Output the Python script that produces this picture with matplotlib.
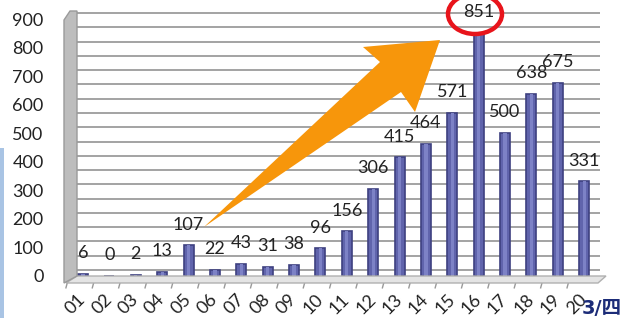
import matplotlib
matplotlib.use('Agg')
import matplotlib.pyplot as plt
import matplotlib.transforms as mtransforms
from matplotlib.patches import Polygon, Ellipse, Rectangle

categories = ['01', '02', '03', '04', '05', '06', '07', '08', '09', '10',
              '11', '12', '13', '14', '15', '16', '17', '18', '19', '20']
values = [6, 0, 2, 13, 107, 22, 43, 31, 38, 96,
          156, 306, 415, 464, 571, 851, 500, 638, 675, 331]
y_ticks = [0, 100, 200, 300, 400, 500, 600, 700, 800, 900]

W, H = 624, 318
plt.rcParams['font.family'] = ['Liberation Sans Narrow', 'Lato', 'DejaVu Sans']

fig = plt.figure(figsize=(W / 100, H / 100), dpi=100)


def px(x, y):
    # pixel position (origin top-left) -> figure fraction
    return (x / W, 1 - y / H)


# axes: x 77..600 px, y 283 (bottom, -25) .. 12 (top, 925)
ax = fig.add_axes([77 / W, 35 / H, (600 - 77) / W, (283 - 12) / H])
ax.set_xlim(-0.23, 19.6)
ax.set_ylim(-25, 925)
ax.set_facecolor('white')
for s in ax.spines.values():
    s.set_visible(False)

# back-wall gridlines, shifted up to fake the 3D depth
shift = mtransforms.ScaledTranslation(0, 6 / 100, fig.dpi_scale_trans)
for g in range(0, 901, 50):
    ax.plot([0, 1], [g, g], color='#a3a3a3', lw=1.4,
            transform=ax.get_yaxis_transform() + shift, zorder=0)

# floor
floor = Polygon([px(66, 283), px(598, 283), px(606, 276), px(77, 276)],
                closed=True, transform=fig.transFigure, facecolor='#e4e4e4',
                edgecolor='#b0b0b0', lw=1, zorder=1)
fig.patches.append(floor)

# left wall
wall = Polygon([px(64, 283), px(64, 20), px(70, 11), px(77, 11), px(77, 276)],
               closed=True, transform=fig.transFigure, facecolor='#bdbdbd',
               edgecolor='#9a9a9a', lw=1)
fig.patches.append(wall)

x = list(range(len(categories)))
ax.bar(x, values, width=0.38, color='#6064ac', edgecolor='#3e4180',
       linewidth=1.2, zorder=3)
ax.bar(x, values, width=0.12, color='#7d82c6', linewidth=0, zorder=4)

for i, v in enumerate(values):
    ax.annotate(str(v), (i, v), xytext=(0, 15), textcoords='offset points',
                ha='center', va='center', fontsize=13, color='#222222', zorder=5)

ax.set_yticks(y_ticks)
ax.set_yticklabels([str(t) for t in y_ticks])
ax.tick_params(axis='y', length=0, pad=24, labelsize=13, labelcolor='#222222')

ax.set_xticks(x)
ax.set_xticklabels(categories, rotation=45, ha='right', va='center',
                   rotation_mode='anchor')
ax.tick_params(axis='x', length=0, pad=10, labelsize=13, labelcolor='#222222')

# front floor ticks
for i in range(len(categories)):
    ax.plot([i - 0.6, i - 0.65], [-25, -42], color='#999999', lw=1,
            clip_on=False, zorder=2)

# orange arrow
arrow = Polygon([px(204, 227), px(380, 62), px(363, 47), px(440, 40),
                 px(415, 112), px(401, 92)], closed=True,
                transform=fig.transFigure, facecolor='#f7960b',
                edgecolor='none', zorder=10)
fig.patches.append(arrow)

# red circle around the peak
ell = Ellipse(px(475, 14), 54 / W, 40 / H, transform=fig.transFigure,
              fill=False, edgecolor='#e8141b', lw=3.2, zorder=11)
fig.patches.append(ell)

# light slide background strip at left
fig.patches.append(Rectangle(px(0, 318), 4 / W, 170 / H, transform=fig.transFigure,
                             facecolor='#a9c4e4', edgecolor='none'))

fig.text(582 / W, 1 - 308 / H, '3/四', color='#1c2c78', fontsize=14,
         fontweight='bold', ha='left', va='center',
         family=['DejaVu Sans', 'Noto Sans CJK SC'])

fig.savefig('out.png', dpi=100)
